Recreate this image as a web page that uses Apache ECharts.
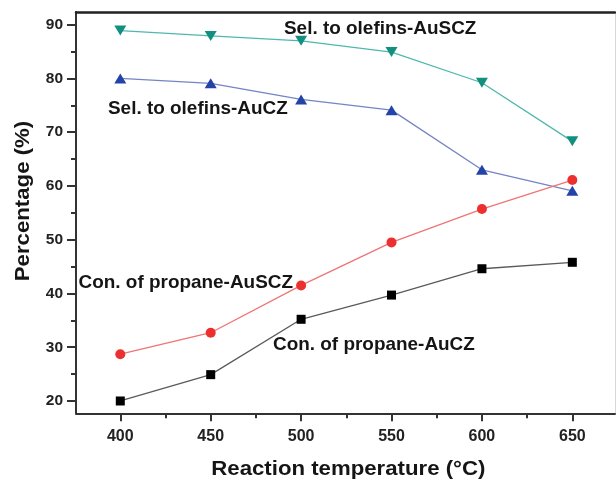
<!DOCTYPE html>
<html><head><meta charset="utf-8">
<script src="https://cdn.jsdelivr.net/npm/echarts@6/dist/echarts.min.js"></script>
<style>html,body{margin:0;padding:0;background:#fff}#c{width:616px;height:481px}</style>
</head><body><div id="c"></div>
<script>
const temps = [400, 450, 500, 550, 600, 650];
const selAuSCZ = [88.9, 87.9, 87.0, 84.9, 79.2, 68.3];
const selAuCZ = [80.0, 79.1, 76.1, 74.1, 63.0, 59.1];
const conAuSCZ = [28.7, 32.7, 41.5, 49.5, 55.7, 61.1];
const conAuCZ = [20.0, 24.9, 35.2, 39.7, 44.6, 45.8];
const xMajor = [400, 450, 500, 550, 600, 650];
const xMinor = [425, 475, 525, 575, 625];
const yMajor = [20, 30, 40, 50, 60, 70, 80, 90];
const yMinor = [25, 35, 45, 55, 65, 75, 85];
const seriesNames = ['Sel. to olefins-AuSCZ', 'Sel. to olefins-AuCZ', 'Con. of propane-AuSCZ', 'Con. of propane-AuCZ'];
const xTitle = 'Reaction temperature (°C)';
const yTitle = 'Percentage (%)';

const XMIN = 375.5, XMAX = 673.6, YMIN = 17.71, YMAX = 92.36;
const chart = echarts.init(document.getElementById('c'), null, {renderer: 'canvas'});
const font = 'Liberation Sans, Arial, sans-serif';
const pair = a => a.map((v, i) => [temps[i], v]);

function mk(name, data, lineColor, markColor, symbol, size, rot) {
  return {
    name, type: 'line', data: pair(data), xAxisIndex: 0, yAxisIndex: 0,
    symbol, symbolSize: size, symbolRotate: rot || 0,
    lineStyle: {color: lineColor, width: 1.3},
    itemStyle: {color: markColor, borderWidth: 0},
    emphasis: {disabled: true}, z: 3
  };
}

function label(text, x, y, align, size, sx) {
  return {type: 'text', x, y, scaleX: sx, z: 10,
    style: {text, font: 'bold ' + size + 'px ' + font, fill: '#151515', align, verticalAlign: 'middle'}};
}

const option = {
  animation: false,
  backgroundColor: '#fff',
  grid: {left: 76, top: 12, right: 1, bottom: 67.7, containLabel: false, outerBoundsMode: 'none'},
  xAxis: [
    {type: 'value', min: XMIN, max: XMAX, position: 'bottom',
     axisLine: {show: true, lineStyle: {color: '#333', width: 2}},
     axisTick: {show: true, length: 8, lineStyle: {color: '#333', width: 2}, customValues: xMajor},
     axisLabel: {show: true, customValues: xMajor, color: '#222', fontFamily: font, fontWeight: 'bold', fontSize: 16, margin: 15},
     splitLine: {show: false}},
    {type: 'value', min: XMIN, max: XMAX, position: 'bottom',
     axisLine: {show: false},
     axisTick: {show: true, length: 5, lineStyle: {color: '#333', width: 2}, customValues: xMinor},
     axisLabel: {show: false}, splitLine: {show: false}},
    {type: 'value', min: XMIN, max: XMAX, position: 'top',
     axisLine: {show: true, lineStyle: {color: '#222', width: 2.5}},
     axisTick: {show: false}, axisLabel: {show: false}, splitLine: {show: false}}
  ],
  yAxis: [
    {type: 'value', min: YMIN, max: YMAX, position: 'left',
     axisLine: {show: true, lineStyle: {color: '#333', width: 2}},
     axisTick: {show: true, length: 9, lineStyle: {color: '#333', width: 2}, customValues: yMajor},
     axisLabel: {show: true, customValues: yMajor, color: '#222', fontFamily: font, fontWeight: 'bold', fontSize: 15.5, margin: 13},
     splitLine: {show: false}},
    {type: 'value', min: YMIN, max: YMAX, position: 'left',
     axisLine: {show: false},
     axisTick: {show: true, length: 5, lineStyle: {color: '#333', width: 2}, customValues: yMinor},
     axisLabel: {show: false}, splitLine: {show: false}},
    {type: 'value', min: YMIN, max: YMAX, position: 'right',
     axisLine: {show: true, lineStyle: {color: '#d8d8d8', width: 1}},
     axisTick: {show: false}, axisLabel: {show: false}, splitLine: {show: false}}
  ],
  series: [
    mk(seriesNames[0], selAuSCZ, '#4fb8ae', '#11907f', 'triangle', [12, 10], 180),
    mk(seriesNames[1], selAuCZ, '#7484c4', '#2443a8', 'triangle', [12, 10], 0),
    mk(seriesNames[2], conAuSCZ, '#f07474', '#ec3030', 'circle', 10, 0),
    mk(seriesNames[3], conAuCZ, '#5a5a5a', '#000000', 'rect', 9, 0)
  ],
  graphic: [
    label(seriesNames[0], 284, 29.5, 'left', 17.7, 1.07),
    label(seriesNames[1], 108, 109.5, 'left', 17.7, 1.07),
    label(seriesNames[2], 293, 283, 'right', 17.7, 1.07),
    label(seriesNames[3], 273, 345.5, 'left', 17.7, 1.07),
    label(xTitle, 348.3, 469.5, 'center', 20, 1.11),
    {type: 'text', x: 23, y: 201, rotation: Math.PI / 2, scaleX: 1.11, z: 10,
     style: {text: yTitle, font: 'bold 20px ' + font, fill: '#151515', align: 'center', verticalAlign: 'middle'}}
  ]
};
chart.setOption(option);
</script></body></html>
